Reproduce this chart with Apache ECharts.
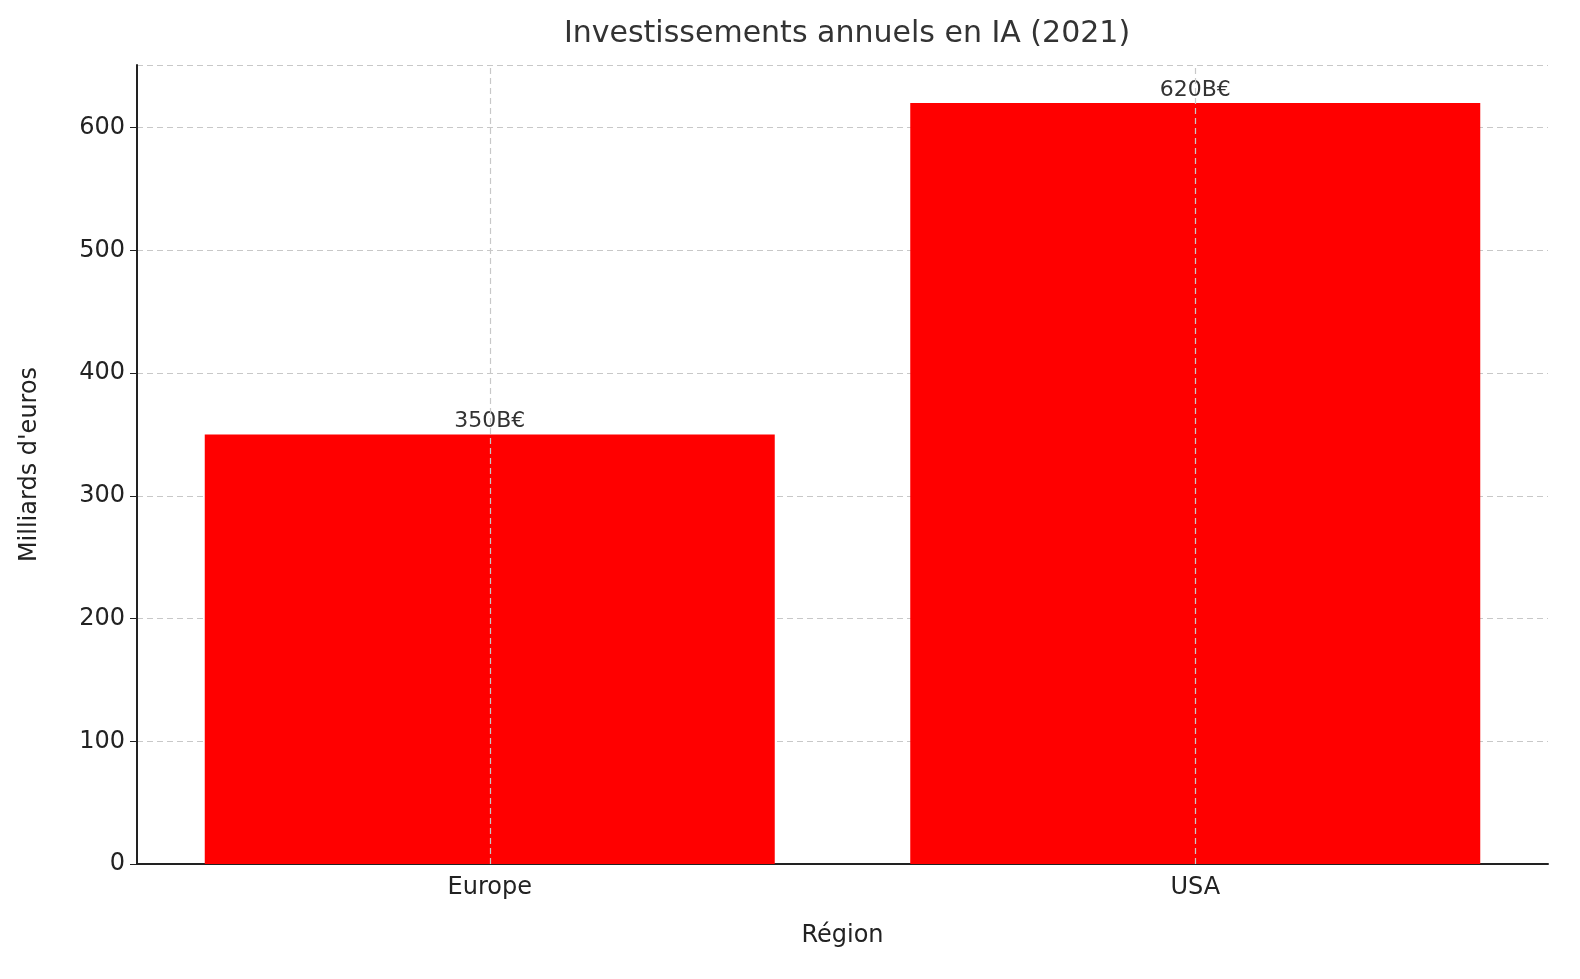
<!DOCTYPE html>
<html>
<head>
<meta charset="utf-8">
<script src="https://cdn.jsdelivr.net/npm/echarts@6/dist/echarts.min.js"></script>
<style>html,body{margin:0;padding:0;background:#fff}#chart{width:1580px;height:979px}</style>
</head>
<body>
<div id="chart"></div>
<script>
var regions = ['Europe', 'USA'];
var invest = [350, 620];
var labels = ['350B€', '620B€'];

var chart = echarts.init(document.getElementById('chart'));
var gridLine = { color: '#c8c8c8', type: [6, 4], width: 1.2 };
chart.setOption({
    textStyle: { fontFamily: 'DejaVu Sans' },
    title: {
        text: 'Investissements annuels en IA (2021)',
        left: 842, top: 14, textAlign: 'center',
        textStyle: { fontSize: 30, fontWeight: 'normal', color: '#333' }
    },
    grid: { left: 137, right: 32, top: 65, bottom: 115 },
    xAxis: {
        type: 'category',
        data: regions,
        name: 'Région', nameLocation: 'middle', nameGap: 60,
        nameTextStyle: { fontSize: 24, color: '#222' },
        axisLine: { lineStyle: { color: '#222', width: 2 } },
        axisTick: { alignWithLabel: true, length: 7, lineStyle: { color: '#222' } },
        axisLabel: { fontSize: 24, color: '#222', margin: 12 },
        splitLine: { show: false }
    },
    yAxis: {
        type: 'value', min: 0, max: 651, interval: 100,
        name: "Milliards d'euros", nameLocation: 'middle', nameGap: 95,
        nameTextStyle: { fontSize: 24, color: '#222' },
        axisLine: { show: true, lineStyle: { color: '#222', width: 2 } },
        axisTick: { show: true, length: 7, lineStyle: { color: '#222' } },
        axisLabel: { fontSize: 24, color: '#222', margin: 12, showMaxLabel: false },
        splitLine: { lineStyle: gridLine }
    },
    series: [{
        type: 'bar',
        data: invest,
        barWidth: 570,
        itemStyle: { color: '#ff0000' },
        label: {
            show: true, position: 'top', distance: 2,
            fontSize: 22, color: '#333',
            formatter: function (p) { return labels[p.dataIndex]; }
        },
        markLine: {
            silent: true, symbol: 'none', label: { show: false },
            lineStyle: gridLine,
            data: regions.map(function (r) { return { xAxis: r }; })
        }
    }]
});
</script>
</body>
</html>
